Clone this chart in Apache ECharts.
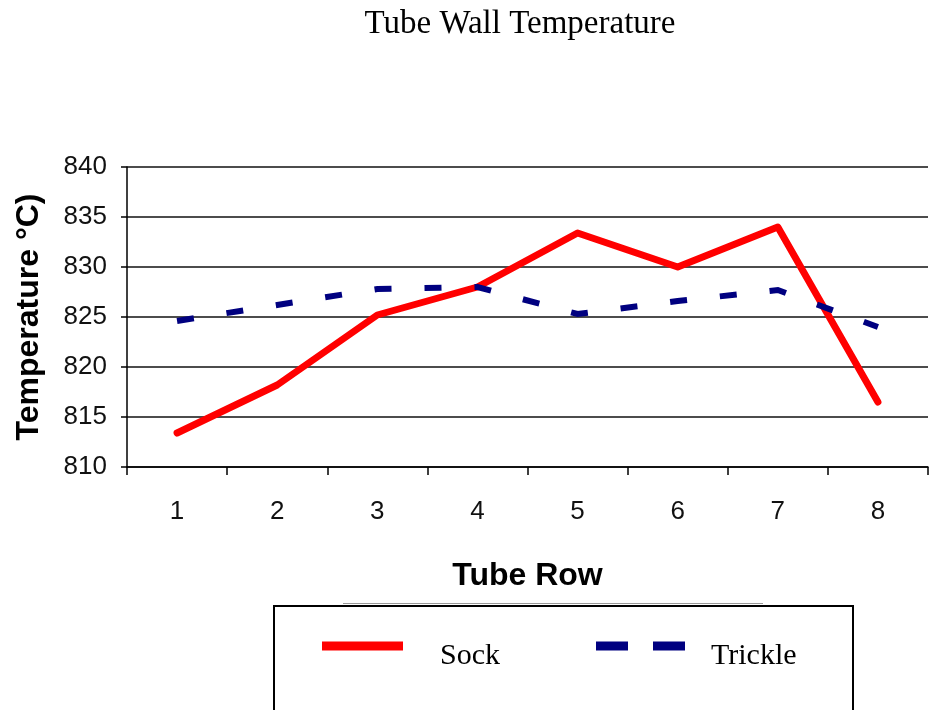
<!DOCTYPE html>
<html>
<head>
<meta charset="utf-8">
<script src="https://cdn.jsdelivr.net/npm/echarts@6/dist/echarts.min.js"></script>
<style>html,body{margin:0;padding:0;background:#fff;}#c{width:929px;height:710px;}</style>
</head>
<body>
<div id="c"></div>
<script>
const categories = ['1', '2', '3', '4', '5', '6', '7', '8'];
const sock = [813.4, 818.2, 825.2, 828.0, 833.4, 830.0, 834.0, 816.5];
const trickle = [824.6, 826.2, 827.8, 828.0, 825.3, 826.6, 827.7, 824.0];
const yTicks = { min: 810, max: 840, interval: 5 };

const chart = echarts.init(document.getElementById('c'));
chart.setOption({
  animation: false,
  backgroundColor: '#fff',
  title: {
    text: 'Tube Wall Temperature',
    left: 515, top: 3, textAlign: 'center',
    textStyle: { fontFamily: 'Liberation Serif', fontSize: 33, fontWeight: 'normal', color: '#000' }
  },
  grid: { left: 127, top: 167, right: 1, bottom: 243 },
  xAxis: {
    type: 'category', data: categories, boundaryGap: true,
    name: 'Tube Row', nameLocation: 'middle', nameGap: 93,
    nameTextStyle: { fontFamily: 'Liberation Sans', fontSize: 32, fontWeight: 'bold', color: '#000' },
    axisLine: { lineStyle: { color: '#000', width: 1.5 } },
    axisTick: { show: true, length: 8, alignWithLabel: false, lineStyle: { color: '#000', width: 1.5 } },
    axisLabel: { margin: 32, fontFamily: 'Liberation Sans', fontSize: 26, color: '#111' },
    splitLine: { show: false }
  },
  yAxis: {
    type: 'value', min: yTicks.min, max: yTicks.max, interval: yTicks.interval,
    name: 'Temperature °C)', nameLocation: 'middle', nameGap: 82,
    nameTextStyle: { fontFamily: 'Liberation Sans', fontSize: 32, fontWeight: 'bold', color: '#000' },
    axisLine: { show: true, lineStyle: { color: '#000', width: 1.5 } },
    axisTick: { show: true, length: 6, lineStyle: { color: '#000', width: 1.5 } },
    axisLabel: { margin: 20, fontFamily: 'Liberation Sans', fontSize: 26, color: '#111' },
    splitLine: { show: true, lineStyle: { color: '#111', width: 1.5 } }
  },
  legend: [
    {
      data: ['Sock'], left: 322, top: 641, padding: 0,
      icon: 'path://M0,0h81v9h-81zM0,29', itemWidth: 81, itemHeight: 29,
      textStyle: { fontFamily: 'Liberation Serif', fontSize: 30, color: '#000', padding: [0, 0, 0, 32] }
    },
    {
      data: ['Trickle'], left: 596, top: 641, padding: 0,
      icon: 'path://M0,0h32v9h-32z M57,0h32v9h-32zM0,29', itemWidth: 89, itemHeight: 29,
      textStyle: { fontFamily: 'Liberation Serif', fontSize: 30, color: '#000', padding: [0, 0, 0, 21] }
    }
  ],
  graphic: [
    { type: 'line', shape: { x1: 343, y1: 603.5, x2: 763, y2: 603.5 }, style: { stroke: '#999', lineWidth: 1 }, silent: true },
    { type: 'rect', shape: { x: 274, y: 606, width: 579, height: 140 }, style: { fill: 'none', stroke: '#000', lineWidth: 2 }, silent: true }
  ],
  series: [
    {
      name: 'Sock', type: 'line', data: sock, symbol: 'none', color: '#ff0000',
      lineStyle: { color: '#ff0000', width: 7, cap: 'round', join: 'round' }
    },
    {
      name: 'Trickle', type: 'line', data: trickle, symbol: 'none', color: '#000080',
      lineStyle: { color: '#000080', width: 6, type: [17, 33], cap: 'butt', join: 'miter' }
    }
  ]
});
</script>
</body>
</html>
